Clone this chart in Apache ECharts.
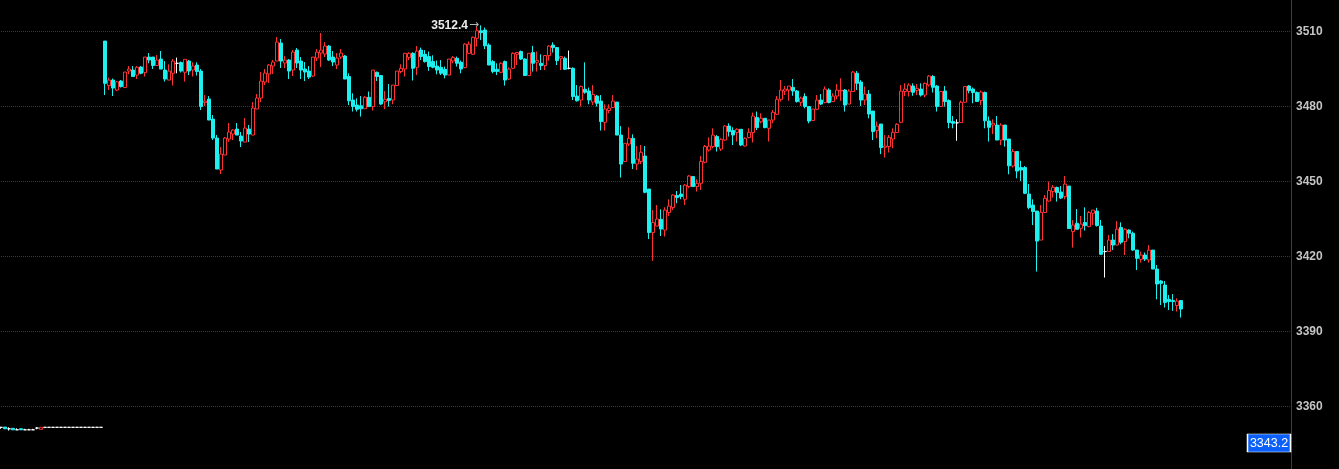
<!DOCTYPE html>
<html>
<head>
<meta charset="utf-8">
<script src="https://cdn.jsdelivr.net/npm/echarts@6/dist/echarts.min.js"></script>
<style>
html,body{margin:0;padding:0;background:#000;}
#c{width:1339px;height:469px;}
</style>
</head>
<body>
<div id="c"></div>
<script>
// ---- DATA ----
// Number of category slots on the time axis (data occupies the first ones)
const SLOT_COUNT = 323;
// y-axis ticks
const yTicks = [3360, 3390, 3420, 3450, 3480, 3510];
// Early flat session bars, [open, high, low, close]
const earlyBars = [
  [3351.6,3351.6,3351.0,3351.6],[3351.7,3351.7,3351.0,3351.0],[3351.0,3351.6,3350.3,3351.0],
  [3351.2,3351.2,3350.6,3350.6],[3350.6,3351.2,3350.6,3350.6],[3351.0,3351.2,3350.6,3350.6],
  [3350.6,3351.0,3350.6,3350.6],[3350.6,3351.0,3350.6,3350.6],[3350.6,3351.0,3350.6,3350.6],
  [3351.3,3351.6,3350.8,3351.3],[3350.8,3351.6,3350.8,3351.6],
  [3351.6,3351.6,3351.6,3351.6],[3351.6,3351.6,3351.6,3351.6],[3351.6,3351.6,3351.6,3351.6],
  [3351.6,3351.6,3351.6,3351.6],[3351.6,3351.6,3351.6,3351.6],[3351.6,3351.6,3351.6,3351.6],
  [3351.6,3351.6,3351.6,3351.6],[3351.6,3351.6,3351.6,3351.6],[3351.6,3351.6,3351.6,3351.6],
  [3351.6,3351.6,3351.6,3351.6],[3351.6,3351.6,3351.6,3351.6],[3351.6,3351.6,3351.6,3351.6],
  [3351.6,3351.6,3351.6,3351.6],[3351.6,3351.6,3351.6,3351.6],[3351.6,3351.6,3351.6,3351.6]
];
// Main session bars, [open, high, low, close]
const mainBars = [
  // 26-35
  [3506.1,3506.1,3484.5,3489.2],[3488.3,3491.5,3486.5,3490.5],[3490.5,3491.1,3484.1,3487.3],[3486.5,3490.1,3486.1,3489.8],[3490.1,3490.5,3487.5,3487.9],
  [3487.5,3493.7,3487.5,3493.7],[3494.1,3496.1,3492.8,3494.9],[3494.5,3496.1,3491.9,3491.9],[3492.5,3496.1,3490.9,3495.6],[3495.7,3496.1,3492.8,3493.2],
  // 36-45
  [3493.5,3499.7,3491.9,3499.7],[3499.7,3501.3,3497.2,3498.5],[3499.7,3499.7,3494.9,3496.3],[3496.3,3500.5,3496.3,3498.5],[3498.9,3502.1,3494.9,3494.9],
  [3494.5,3498.1,3489.9,3490.9],[3490.5,3496.8,3490.5,3494.1],[3493.2,3498.9,3488.3,3498.1],[3497.2,3499.5,3493.2,3497.2],[3497.5,3497.9,3493.5,3494.1],
  // 46-55
  [3493.6,3498.8,3489.9,3498.8],[3498.1,3498.5,3492.5,3494.1],[3494.5,3497.6,3491.9,3496.1],[3496.5,3497.6,3492.3,3493.9],[3494.1,3494.9,3478.5,3479.9],
  [3481.5,3484.5,3480.1,3482.1],[3482.9,3484.1,3474.5,3474.5],[3474.9,3476.5,3466.5,3467.3],[3467.3,3468.5,3454.9,3454.9],[3454.5,3463.7,3452.9,3460.9],
  // 56-65
  [3460.5,3467.7,3460.5,3467.3],[3466.9,3473.3,3465.7,3469.7],[3468.9,3470.9,3466.5,3470.5],[3470.9,3473.3,3468.5,3468.5],[3468.1,3469.7,3463.7,3466.1],
  [3465.7,3475.3,3465.7,3471.3],[3470.9,3472.5,3465.7,3468.9],[3468.5,3481.7,3468.5,3479.3],[3478.9,3484.9,3478.9,3483.3],[3483.3,3493.7,3481.7,3490.1],
  // 66-75
  [3489.7,3494.9,3488.5,3493.3],[3492.9,3496.9,3489.3,3496.5],[3496.1,3498.5,3492.9,3497.7],[3498.1,3507.7,3498.1,3505.7],[3505.3,3506.9,3495.3,3498.1],
  [3497.3,3500.1,3495.3,3498.5],[3498.5,3498.9,3490.9,3494.1],[3494.5,3502.5,3492.1,3501.7],[3502.5,3503.3,3495.3,3497.3],[3498.1,3499.7,3490.9,3494.5],
  // 76-85
  [3494.9,3497.7,3490.1,3493.7],[3494.1,3496.1,3490.9,3491.7],[3492.1,3499.7,3491.7,3499.7],[3499.3,3502.9,3498.1,3501.7],[3501.3,3509.3,3495.7,3502.5],
  [3500.9,3505.7,3499.7,3504.1],[3504.1,3504.5,3498.1,3498.5],[3499.7,3502.1,3496.1,3497.7],[3496.5,3501.3,3494.9,3499.3],[3499.7,3502.9,3498.9,3501.3],
  // 86-95
  [3500.1,3500.5,3490.9,3490.9],[3491.9,3493.2,3480.5,3482.2],[3482.5,3485.2,3477.9,3479.9],[3480.5,3483.2,3477.9,3478.8],[3480.2,3484.1,3475.9,3479.0],
  [3479.0,3484.1,3479.0,3483.6],[3483.6,3485.9,3479.9,3479.9],[3479.9,3494.5,3478.3,3494.5],[3493.6,3493.9,3490.1,3491.9],[3492.3,3492.5,3480.5,3480.9],
  // 96-105
  [3481.8,3486.1,3478.9,3482.8],[3483.1,3488.9,3479.9,3482.3],[3482.5,3488.5,3480.8,3488.5],[3488.3,3494.1,3488.3,3494.1],[3493.9,3496.8,3493.2,3495.2],
  [3494.9,3501.2,3491.9,3501.2],[3499.5,3501.6,3498.5,3501.2],[3501.2,3501.6,3490.3,3495.2],[3495.6,3504.1,3492.5,3502.1],[3502.5,3503.5,3498.5,3499.9],
  // 106-115
  [3500.8,3502.5,3497.5,3497.9],[3499.9,3501.9,3494.2,3495.9],[3497.9,3500.4,3495.2,3495.6],[3496.1,3498.3,3492.8,3494.5],[3495.6,3498.5,3492.5,3493.2],
  [3494.8,3495.9,3491.2,3492.5],[3492.5,3498.9,3492.5,3498.9],[3498.1,3500.1,3497.2,3499.5],[3499.2,3499.9,3495.9,3497.2],[3497.6,3498.3,3493.2,3494.9],
  // 116-125
  [3495.5,3505.2,3495.2,3504.9],[3501.2,3505.9,3500.9,3504.9],[3500.8,3507.9,3500.5,3507.6],[3507.2,3511.8,3503.9,3510.2],[3510.2,3512.4,3506.5,3509.5],
  [3510.5,3511.5,3502.9,3504.2],[3504.5,3505.2,3496.5,3496.5],[3497.9,3498.5,3493.2,3493.9],[3494.8,3497.2,3492.5,3493.9],[3493.6,3497.6,3493.2,3497.2],
  // 126-135
  [3497.9,3498.3,3488.3,3490.5],[3490.9,3495.6,3490.5,3494.9],[3495.2,3501.6,3494.9,3501.2],[3500.8,3501.7,3496.5,3501.5],[3501.9,3502.3,3498.5,3498.9],
  [3498.9,3499.2,3492.3,3492.3],[3492.3,3501.2,3492.3,3501.2],[3501.5,3504.2,3493.9,3497.2],[3497.6,3501.9,3493.9,3498.3],[3497.2,3500.8,3494.5,3496.3],
  // 136-145
  [3496.3,3500.5,3494.5,3500.3],[3500.3,3504.5,3498.3,3504.1],[3504.5,3505.6,3501.5,3503.5],[3503.5,3503.6,3496.5,3498.3],[3499.2,3499.9,3494.5,3499.9],
  [3499.2,3499.9,3494.5,3494.8],[3495.2,3502.3,3494.8,3495.2],[3495.2,3495.6,3482.5,3483.9],[3484.1,3488.5,3481.9,3482.2],[3482.5,3488.3,3479.9,3487.9],
  // 146-155
  [3486.8,3497.6,3485.0,3485.6],[3486.1,3487.5,3480.8,3482.5],[3481.7,3488.5,3480.5,3484.7],[3484.1,3484.5,3479.9,3481.2],[3482.1,3484.5,3470.3,3473.9],
  [3473.6,3480.8,3470.3,3478.9],[3478.3,3480.8,3477.2,3479.3],[3479.5,3484.5,3479.5,3482.1],[3481.7,3481.7,3468.5,3468.5],[3468.5,3472.1,3451.5,3456.9],
  // 156-165
  [3457.9,3465.2,3457.9,3465.2],[3464.9,3471.6,3464.1,3467.2],[3467.2,3468.8,3454.9,3457.2],[3456.9,3464.1,3454.5,3458.9],[3457.9,3464.5,3456.9,3461.6],
  [3460.1,3464.1,3445.2,3445.6],[3446.9,3446.9,3426.9,3429.5],[3429.5,3438.5,3418.2,3433.5],[3432.1,3440.5,3432.1,3434.9],[3434.8,3438.8,3428.1,3430.9],
  // 166-175
  [3430.5,3439.6,3427.9,3438.5],[3437.5,3442.8,3436.1,3440.1],[3439.5,3444.8,3438.5,3444.5],[3444.3,3446.1,3441.2,3443.5],[3444.9,3448.5,3442.8,3443.9],
  [3442.8,3448.9,3440.5,3448.5],[3447.9,3452.5,3447.2,3452.1],[3451.9,3451.9,3447.9,3447.9],[3447.9,3450.8,3445.9,3449.2],[3449.2,3460.1,3446.5,3457.9],
  // 176-185
  [3457.6,3464.5,3457.2,3463.9],[3462.5,3467.6,3461.9,3464.1],[3463.9,3471.2,3463.2,3468.5],[3467.9,3468.5,3461.9,3463.9],[3462.9,3467.2,3462.1,3466.8],
  [3466.5,3472.5,3466.2,3472.1],[3472.1,3473.2,3467.9,3469.9],[3470.3,3471.6,3464.5,3468.5],[3469.5,3471.2,3465.9,3470.8],[3470.8,3470.8,3464.1,3464.5],
  // 186-195
  [3464.1,3467.6,3463.9,3467.2],[3467.5,3471.2,3467.2,3469.6],[3469.5,3477.5,3465.5,3476.1],[3475.5,3477.9,3470.5,3471.5],[3473.8,3477.2,3473.2,3475.2],
  [3475.2,3475.2,3471.2,3471.5],[3471.2,3474.5,3465.9,3474.5],[3474.5,3478.5,3473.2,3477.6],[3476.8,3484.1,3476.5,3482.8],[3482.8,3490.5,3481.9,3486.5],
  // 196-205
  [3486.1,3488.1,3484.5,3486.9],[3486.5,3488.1,3482.2,3488.1],[3487.6,3490.9,3484.2,3486.1],[3486.1,3486.5,3481.5,3481.9],[3481.6,3483.9,3480.1,3483.3],
  [3483.9,3485.2,3479.2,3479.9],[3479.9,3479.9,3473.2,3474.1],[3474.3,3478.9,3474.3,3478.9],[3478.8,3484.5,3478.5,3482.5],[3482.5,3484.9,3480.5,3480.9],
  // 206-215
  [3481.5,3487.9,3481.2,3486.9],[3486.5,3487.2,3481.2,3481.5],[3481.9,3485.2,3481.9,3484.1],[3484.1,3488.9,3482.8,3486.5],[3486.1,3491.2,3482.2,3486.4],
  [3486.5,3486.9,3477.9,3480.5],[3480.9,3486.8,3480.9,3486.1],[3485.9,3494.1,3485.9,3493.7],[3493.2,3494.1,3486.5,3489.2],[3489.7,3490.5,3480.1,3482.5],
  // 216-225
  [3482.5,3487.9,3480.5,3484.9],[3484.9,3486.5,3475.2,3476.9],[3478.1,3478.1,3466.5,3469.9],[3470.3,3473.9,3467.2,3472.1],[3472.9,3472.9,3460.9,3463.5],
  [3463.6,3468.5,3459.5,3464.1],[3463.9,3468.5,3461.5,3467.6],[3466.9,3471.2,3463.2,3469.6],[3469.5,3473.2,3469.5,3472.8],[3473.6,3488.5,3473.2,3486.1],
  // 226-235
  [3485.9,3489.2,3484.1,3486.9],[3485.9,3489.2,3483.9,3488.5],[3488.1,3489.2,3484.2,3485.6],[3486.3,3488.9,3484.5,3487.2],[3486.9,3489.2,3483.9,3484.5],
  [3484.5,3489.5,3483.6,3489.2],[3488.5,3492.5,3487.9,3492.1],[3491.9,3492.5,3485.5,3487.6],[3488.1,3488.5,3477.9,3479.9],[3479.9,3486.1,3479.9,3485.9],
  // 236-245
  [3486.1,3488.1,3479.9,3481.9],[3482.3,3482.8,3471.2,3473.5],[3473.9,3476.1,3471.2,3473.2],[3473.4,3474.8,3466.2,3473.4],[3473.5,3482.3,3473.5,3481.6],
  [3481.6,3488.1,3481.6,3487.9],[3488.1,3488.5,3485.2,3486.3],[3486.9,3487.5,3481.2,3485.5],[3485.5,3485.9,3481.9,3481.9],[3482.3,3486.3,3480.5,3485.7],
  // 246-255
  [3485.5,3485.9,3471.2,3474.2],[3474.1,3475.9,3465.9,3471.6],[3472.5,3474.8,3468.9,3473.2],[3472.5,3476.1,3466.5,3466.5],[3466.5,3473.2,3464.5,3472.5],
  [3472.5,3472.5,3463.9,3466.5],[3466.9,3466.9,3452.8,3456.2],[3456.1,3462.9,3455.5,3461.9],[3461.9,3462.1,3451.2,3454.1],[3455.5,3458.2,3450.1,3454.5],
  // 256-265
  [3455.5,3456.1,3444.9,3445.2],[3444.9,3448.9,3438.8,3439.5],[3440.5,3442.8,3432.5,3437.9],[3438.1,3438.1,3413.9,3426.1],[3426.5,3440.5,3426.5,3437.6],
  [3437.5,3444.5,3437.5,3443.2],[3442.1,3449.9,3441.9,3446.3],[3445.9,3448.5,3443.5,3447.6],[3447.5,3447.9,3441.9,3445.5],[3445.7,3448.1,3442.9,3443.3],
  // 266-275
  [3443.9,3452.1,3442.8,3448.9],[3448.1,3448.1,3431.1,3431.1],[3429.9,3434.5,3423.5,3432.5],[3433.2,3438.9,3430.8,3430.8],[3431.2,3436.1,3427.5,3432.9],
  [3433.5,3439.6,3430.3,3432.3],[3431.9,3438.1,3431.6,3437.5],[3437.2,3438.5,3432.5,3438.5],[3438.1,3439.4,3431.9,3432.3],[3432.1,3434.5,3420.5,3420.8],
  // 276-285
  [3421.9,3424.1,3411.5,3421.9],[3421.9,3428.5,3421.9,3426.5],[3426.5,3428.9,3422.5,3424.5],[3424.5,3434.1,3424.5,3430.9],[3431.5,3433.6,3424.8,3425.6],
  [3425.9,3431.2,3420.5,3430.8],[3430.5,3430.8,3427.2,3429.2],[3429.2,3429.9,3422.2,3422.5],[3422.5,3422.5,3414.5,3419.2],[3418.8,3421.9,3417.5,3420.5],
  // 286-295
  [3420.5,3421.5,3418.1,3418.9],[3418.5,3424.5,3417.5,3422.5],[3422.5,3422.5,3414.9,3414.9],[3414.9,3416.5,3402.8,3408.9],[3410.1,3410.5,3400.5,3409.2],
  [3408.5,3410.1,3399.5,3401.5],[3402.8,3404.5,3398.5,3401.9],[3402.3,3404.9,3398.2,3401.9],[3400.3,3403.2,3397.9,3402.1],[3402.3,3402.5,3395.5,3398.9]
];
// Price tag at the lower right
const tagValue = 3343.2;
const tagLevel = 3345.3;
const tagSlot = 317;

// ---- BUILD ----
const slots = Array.from({length: SLOT_COUNT}, (_, i) => 'T' + i);
const bars = earlyBars.concat(mainBars);
// ECharts candlestick order: [open, close, lowest, highest]
const kData = bars.map(b => [b[0], b[3], b[2], b[1]]);

const UP = '#ff3232';
const DOWN = '#1ef0f0';
const GRID_RED = '#c00000';
const AXIS_RED = '#d00000';

const chart = echarts.init(document.getElementById('c'), null, {renderer: 'canvas'});
chart.setOption({
  backgroundColor: '#000000',
  animation: false,
  grid: {left: -1, right: 48, top: -43.7, bottom: -12.3, containLabel: false, outerBoundsMode: 'none'},
  xAxis: {type: 'category', data: slots, show: false, boundaryGap: true},
  yAxis: {
    type: 'value', position: 'right', min: 3330, max: 3540, interval: 30,
    axisLine: {show: true, onZero: false, lineStyle: {color: AXIS_RED, width: 1, opacity: 1, type: 'solid'}},
    axisTick: {show: false},
    axisLabel: {
      color: '#c4c4c4', fontFamily: 'Liberation Sans', fontSize: 12, fontWeight: 'bold', margin: 5,
      formatter: v => (yTicks.indexOf(v) >= 0 ? String(v) : '')
    },
    splitLine: {show: true, lineStyle: {color: [GRID_RED], type: [1, 1], width: 1, opacity: 1}}
  },
  series: [{
    type: 'candlestick',
    data: kData,
    barWidth: 3,
    itemStyle: {
      color: '#000000', color0: DOWN,
      borderColor: UP, borderColor0: DOWN,
      borderColorDoji: '#ffffff', borderWidth: 1
    },
    markPoint: {
      animation: false,
      symbol: 'circle', symbolSize: 0,
      data: [
        {
          type: 'max', valueDim: 'highest',
          label: {
            show: true, position: 'left', distance: 2,
            formatter: p => '{t|' + Number(p.value).toFixed(1) + '}{a|→}',
            rich: {
              t: {color: '#ececec', fontWeight: 'bold', fontSize: 12, fontFamily: 'Liberation Sans'},
              a: {color: '#b4b4b4', fontSize: 12, fontFamily: 'DejaVu Sans', padding: [0, 0, 0, 1]}
            }
          }
        },
        {
          coord: [slots[tagSlot], tagLevel],
          symbol: 'rect', symbolSize: [43, 18],
          itemStyle: {color: '#0a60f8', borderColor: '#ffffff', borderWidth: 1},
          label: {
            show: true, position: 'inside', formatter: String(tagValue),
            color: '#ffffff', fontSize: 12.5, fontFamily: 'Liberation Sans'
          }
        }
      ]
    }
  }]
});
</script>
</body>
</html>
